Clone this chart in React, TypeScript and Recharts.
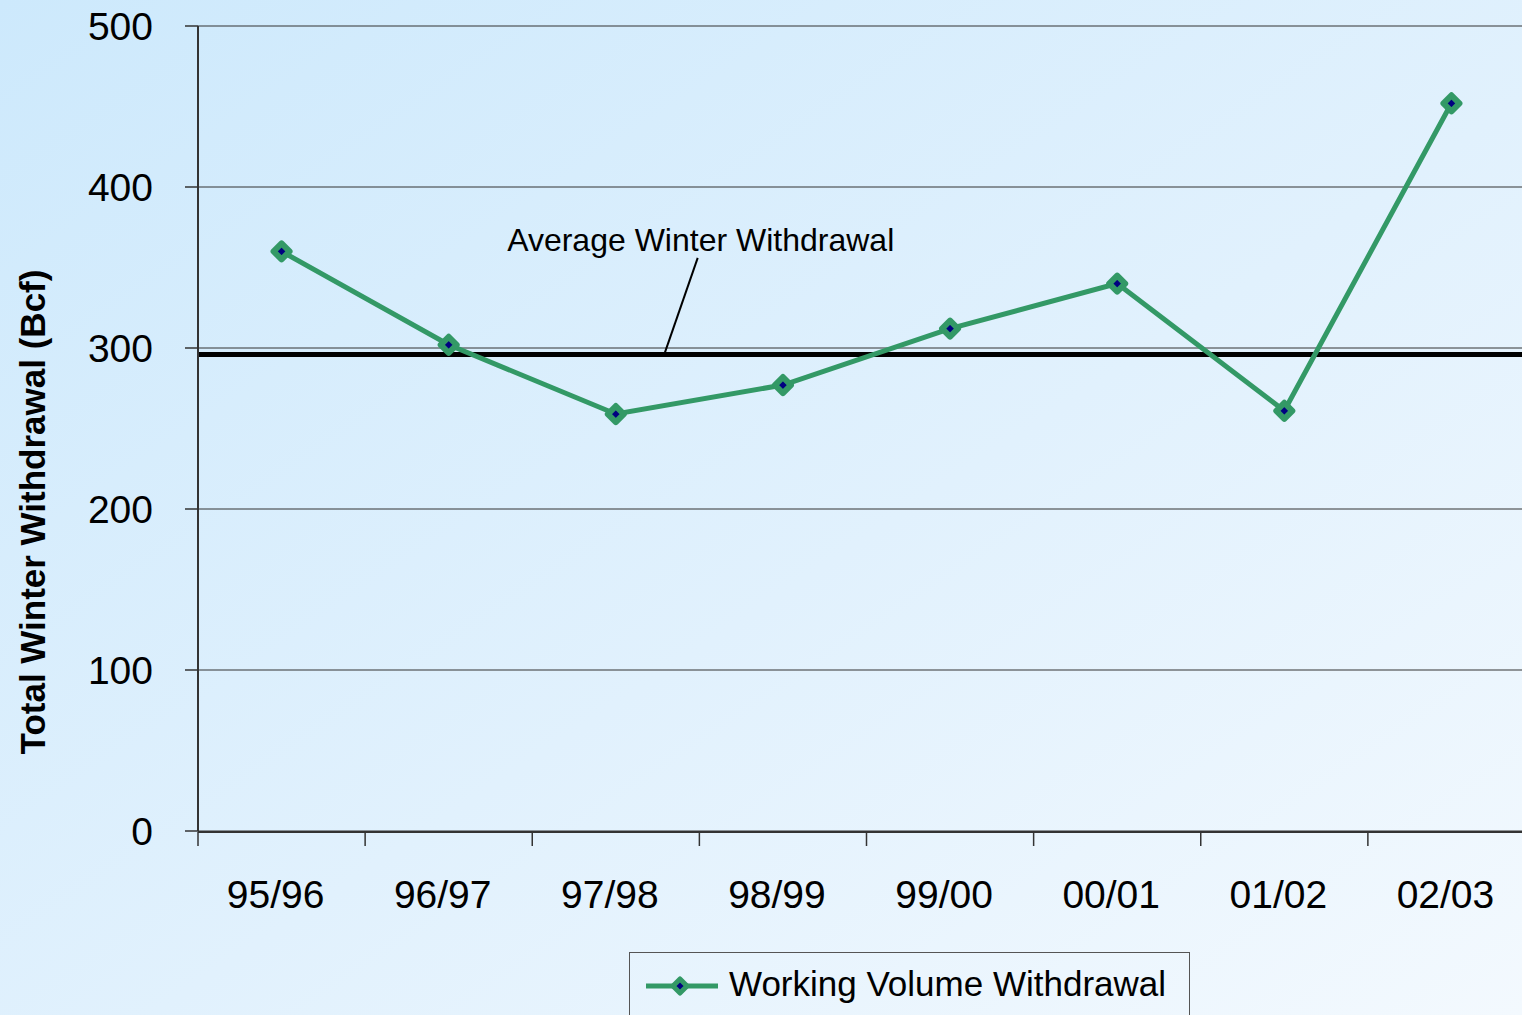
import { CartesianGrid, Label, Legend, Line, LineChart, ReferenceLine, XAxis, YAxis } from 'recharts';

const seasons = ['95/96', '96/97', '97/98', '98/99', '99/00', '00/01', '01/02', '02/03'];
const withdrawals = [360, 302, 259, 277, 312, 340, 261, 452];
const averageWithdrawal = 296;
const yTicks = [0, 100, 200, 300, 400, 500];

// category i sits at i + 0.5 on a numeric axis so tick marks can fall on the boundaries
const data = seasons.map((season, i) => ({ season, pos: i + 0.5, withdrawal: withdrawals[i] }));
const centerTicks = data.map((d) => d.pos);
const boundaryTicks = seasons.map((_, i) => i).concat(seasons.length);

// leader line from the callout text down to the average line
const callout = [
  { x: 2.79, y: averageWithdrawal },
  { x: 2.99, y: 356 },
];

const FONT = 'Arial, "Liberation Sans", sans-serif';
const GREEN = '#339966';
const NAVY = '#000080';

const Diamond = (props: any) => {
  const { cx, cy, index } = props;
  if (cx == null || cy == null) return <g key={index} />;
  const r = 8;
  return (
    <polygon
      key={index}
      points={`${cx},${cy - r} ${cx + r},${cy} ${cx},${cy + r} ${cx - r},${cy}`}
      fill={NAVY}
      stroke={GREEN}
      strokeWidth={6}
      strokeLinejoin="round"
    />
  );
};

const renderLegend = (props: any) => {
  const item = props.payload && props.payload[0];
  return (
    <div
      style={{
        position: 'relative',
        width: 561,
        height: 80,
        boxSizing: 'border-box',
        border: '1px solid #555',
        fontFamily: FONT,
      }}
    >
      <svg width={72} height={24} style={{ position: 'absolute', left: 16, top: 21 }}>
        <line x1={0} y1={12} x2={72} y2={12} stroke={GREEN} strokeWidth={5} />
        <polygon points="34,5 41,12 34,19 27,12" fill={NAVY} stroke={GREEN} strokeWidth={5} strokeLinejoin="round" />
      </svg>
      <div style={{ position: 'absolute', left: 99, top: 13, fontSize: 35, lineHeight: '35px', color: '#000', whiteSpace: 'nowrap' }}>
        {item ? item.value : 'Working Volume Withdrawal'}
      </div>
    </div>
  );
};

export default function App() {
  return (
    <div
      style={{
        position: 'absolute',
        left: 0,
        top: 0,
        width: 1522,
        height: 1015,
        overflow: 'hidden',
        background: 'linear-gradient(to bottom right, #cde9fc 0%, #e1f1fd 55%, #f3f9fe 100%)',
      }}
    >
      <LineChart width={1540} height={1015} data={data} margin={{ top: 26, right: 5, left: 0, bottom: 182 }}>
        <CartesianGrid vertical={false} stroke="#333" strokeWidth={1} />
        <XAxis
          dataKey="pos"
          type="number"
          domain={[0, seasons.length]}
          allowDataOverflow
          ticks={centerTicks}
          interval={0}
          tickFormatter={(v: number) => seasons[Math.floor(v)]}
          axisLine={false}
          tickLine={false}
          tickSize={0}
          tickMargin={49}
          height={1}
          tick={{ fontSize: 39, fill: '#000', fontFamily: FONT, dx: -6 }}
        />
        <XAxis
          xAxisId="bounds"
          dataKey="pos"
          type="number"
          domain={[0, seasons.length]}
          allowDataOverflow
          ticks={boundaryTicks}
          interval={0}
          tickFormatter={() => ''}
          tickSize={14}
          height={1}
          axisLine={{ stroke: '#333', strokeWidth: 2 }}
          tickLine={{ stroke: '#333', strokeWidth: 1.5 }}
        />
        <YAxis
          type="number"
          domain={[0, 500]}
          ticks={yTicks}
          interval={0}
          width={198}
          tickSize={13}
          tickMargin={32}
          axisLine={{ stroke: '#333', strokeWidth: 2 }}
          tickLine={{ stroke: '#333', strokeWidth: 1.5 }}
          tick={{ fontSize: 39, fill: '#000', fontFamily: FONT }}
        >
          <Label
            content={() => (
              <text
                x={45}
                y={512}
                transform="rotate(-90 45 512)"
                textAnchor="middle"
                fontSize={35}
                fontWeight="bold"
                fontFamily={FONT}
                fill="#000"
              >
                Total Winter Withdrawal (Bcf)
              </text>
            )}
          />
        </YAxis>
        <ReferenceLine y={averageWithdrawal} stroke="#000" strokeWidth={5} ifOverflow="extendDomain" />
        <ReferenceLine
          segment={callout}
          stroke="#000"
          strokeWidth={2}
          label={(p: any) => {
            const vb = p.viewBox || { x: 0, y: 0, width: 0 };
            return (
              <text x={vb.x + vb.width + 3} y={vb.y - 7} textAnchor="middle" fontSize={32} fontFamily={FONT} fill="#000">
                Average Winter Withdrawal
              </text>
            );
          }}
        />
        <Line
          type="linear"
          dataKey="withdrawal"
          name="Working Volume Withdrawal"
          stroke={GREEN}
          strokeWidth={5}
          dot={Diamond}
          activeDot={false}
          isAnimationActive={false}
        />
        <Legend
          layout="horizontal"
          verticalAlign="middle"
          align="center"
          wrapperStyle={{ position: 'absolute', left: 629, top: 952, width: 561, height: 80 }}
          content={renderLegend}
        />
      </LineChart>
    </div>
  );
}
